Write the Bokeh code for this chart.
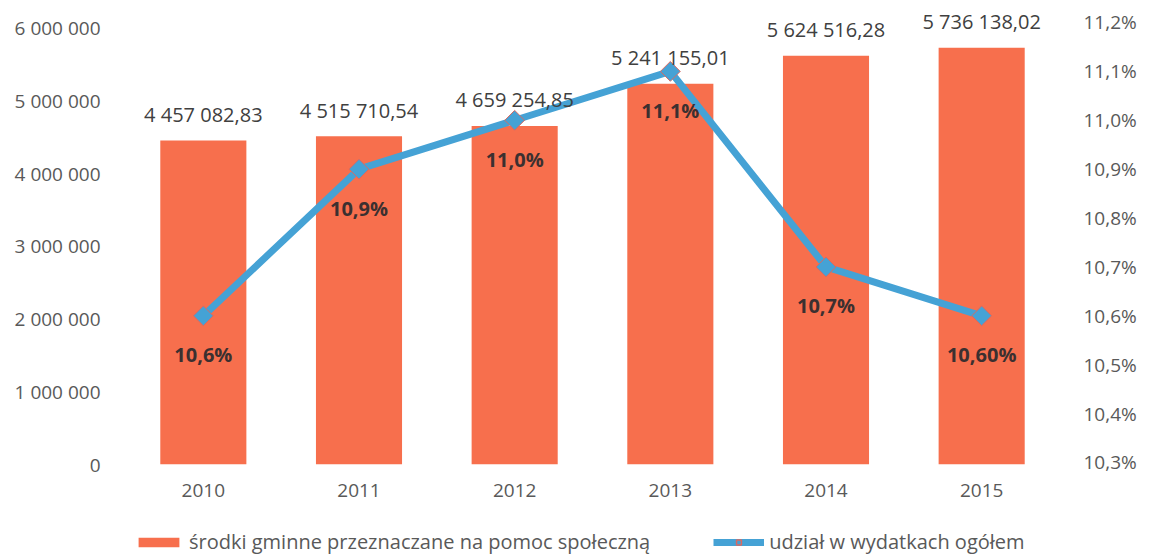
from bokeh.plotting import figure
from bokeh.models import (ColumnDataSource, Range1d, LinearAxis, FixedTicker,
                          Legend, LegendItem, FactorRange)
from bokeh.layouts import column
from bokeh.core.properties import value
from bokeh.embed import file_html
from bokeh.resources import INLINE
import math

years = ["2010", "2011", "2012", "2013", "2014", "2015"]
funds = [4457082.83, 4515710.54, 4659254.85, 5241155.01, 5624516.28, 5736138.02]
funds_labels = ["4 457 082,83", "4 515 710,54", "4 659 254,85", "5 241 155,01", "5 624 516,28", "5 736 138,02"]
share = [10.6, 10.9, 11.0, 11.1, 10.7, 10.6]
share_labels = ["10,6%", "10,9%", "11,0%", "11,1%", "10,7%", "10,60%"]
left_ticks = [0, 1000000, 2000000, 3000000, 4000000, 5000000, 6000000]
left_tick_labels = ["0", "1 000 000", "2 000 000", "3 000 000", "4 000 000", "5 000 000", "6 000 000"]
right_ticks = [10.3, 10.4, 10.5, 10.6, 10.7, 10.8, 10.9, 11.0, 11.1, 11.2]
right_tick_labels = ["10,3%", "10,4%", "10,5%", "10,6%", "10,7%", "10,8%", "10,9%", "11,0%", "11,1%", "11,2%"]
series_names = ["środki gminne przeznaczane na pomoc społeczną", "udział w wydatkach ogółem"]

FONT = "Open Sans"
BAR = "#F76F4D"
BLUE = "#45A2D5"
GRAY = "#595959"
OUTLINE = "#D96A62"

src = ColumnDataSource(dict(years=years, funds=funds, funds_labels=funds_labels,
                            share=share, share_labels=share_labels))

p = figure(x_range=FactorRange(*years, range_padding=0),
           y_range=Range1d(0, 6385319),
           frame_width=934, frame_height=464,
           min_border_left=125, min_border_right=94,
           min_border_top=0, min_border_bottom=56,
           output_backend="svg", toolbar_location=None)
p.outline_line_color = None
p.xgrid.visible = False
p.ygrid.visible = False
p.background_fill_color = "white"
p.border_fill_color = "white"

p.extra_y_ranges = {"pct": Range1d(10.2959, 11.2450)}

p.vbar(x="years", top="funds", width=0.553, source=src,
       fill_color=BAR, line_color=None)

p.line(x="years", y="share", source=src, y_range_name="pct",
       line_color=BLUE, line_width=7)
p.scatter(x="years", y="share", source=src, y_range_name="pct",
          marker="square", angle=math.pi / 4, size=14,
          fill_color=BLUE, line_color=OUTLINE, line_width=1)

p.text(x="years", y="funds", text="funds_labels", source=src,
       text_font=value(FONT), text_font_size="20px", text_color="#404040",
       text_align="center", text_baseline="middle", y_offset=-26)

p.text(x="years", y="share", text="share_labels", source=src, y_range_name="pct",
       text_font=value(FONT), text_font_size="20px", text_font_style="bold",
       text_color="#3b3030", text_align="center", text_baseline="middle", y_offset=39)

# axes
p.xaxis.major_label_text_font = FONT
p.xaxis.major_label_text_font_size = "19px"
p.xaxis.major_label_text_color = GRAY
p.xaxis.axis_line_color = None
p.xaxis.major_tick_line_color = None
p.xaxis.minor_tick_line_color = None
p.xaxis.major_label_standoff = 13

p.yaxis.ticker = FixedTicker(ticks=left_ticks)
p.yaxis.major_label_overrides = dict(zip(left_ticks, left_tick_labels))
p.yaxis.major_label_text_font = FONT
p.yaxis.major_label_text_font_size = "19px"
p.yaxis.major_label_text_color = GRAY
p.yaxis.axis_line_color = None
p.yaxis.major_tick_line_color = None
p.yaxis.minor_tick_line_color = None
p.yaxis.major_label_standoff = 19

ax2 = LinearAxis(y_range_name="pct", ticker=FixedTicker(ticks=right_ticks),
                 major_label_overrides=dict(zip(right_ticks, right_tick_labels)),
                 major_label_text_font=FONT, major_label_text_font_size="19px",
                 major_label_text_color=GRAY, axis_line_color=None,
                 major_tick_line_color=None, minor_tick_line_color=None,
                 major_label_standoff=18)
p.add_layout(ax2, "right")

# legend strip below the chart (its glyphs lie far below its visible range)
lg = figure(width=1153, height=38, x_range=FactorRange(*years, range_padding=0),
            y_range=Range1d(1e8, 2e8), min_border=0,
            output_backend="svg", toolbar_location=None)
lg.axis.visible = False
lg.grid.visible = False
lg.outline_line_color = None
r_bar = lg.vbar(x="years", top="funds", width=0.5, source=src, fill_color=BAR, line_color=None)
r_line = lg.line(x="years", y="share", source=src, line_color=BLUE, line_width=7)
r_mark = lg.scatter(x="years", y="share", source=src, marker="square", angle=math.pi / 4,
                    size=9, fill_color=BLUE, line_color=OUTLINE, line_width=1.5)

legend = Legend(items=[LegendItem(label=series_names[0], renderers=[r_bar]),
                       LegendItem(label=series_names[1], renderers=[r_line, r_mark])],
                orientation="horizontal", location=(8, 3),
                glyph_width=51, glyph_height=12, label_standoff=5,
                padding=0, margin=0, spacing=63,
                label_text_font=FONT, label_text_font_size="20px",
                label_text_color=GRAY, border_line_color=None,
                background_fill_alpha=0, label_height=20)
lg.add_layout(legend, "center")

layout = column(p, lg, spacing=0)
open("out.html", "w").write(file_html(layout, INLINE))
